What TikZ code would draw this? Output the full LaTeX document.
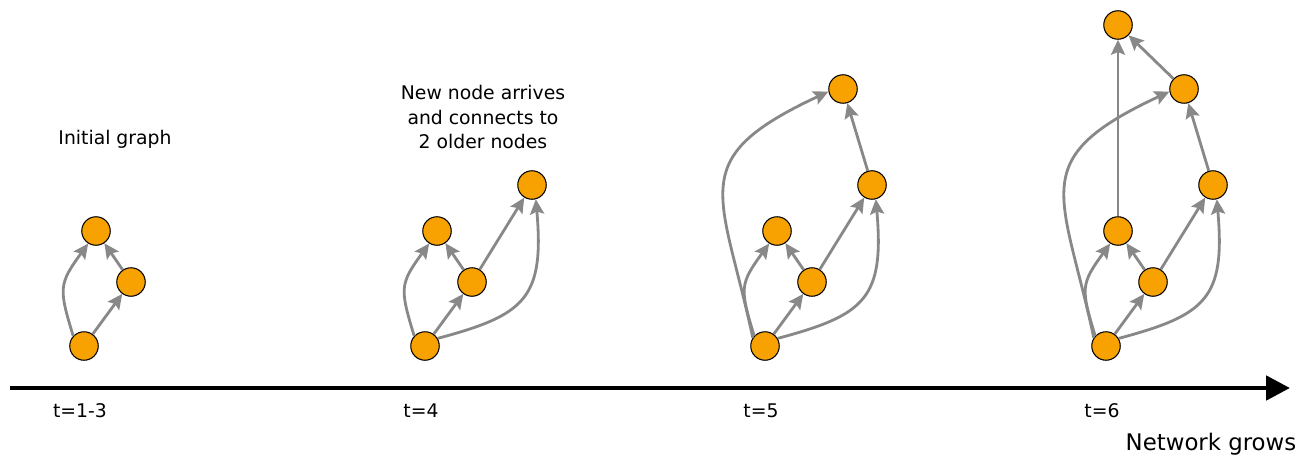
\documentclass[tikz,border=0pt]{standalone}
\usepackage{fontspec}
\setmainfont{DejaVu Sans}
\usepackage{xcolor}
\usepackage{tikz}
\usetikzlibrary{arrows.meta}
\definecolor{vtxorange}{RGB}{247,162,0}
\definecolor{lnkgray}{RGB}{136,136,136}

\begin{document}
\begin{tikzpicture}[x=0.02cm,y=0.02cm,font=\fontsize{10.7}{14.2}\selectfont,
  vtx/.style={circle,draw=black,line width=0.6pt,fill=vtxorange,minimum size=0.57cm,inner sep=0pt},
  lnk/.style={draw=lnkgray,line width=1.6pt,-{Stealth[length=8.5pt,width=8pt,inset=1.5pt]}}]
\useasboundingbox (0,0) rectangle (1314,457);
\coordinate (tstart) at (10,69); \coordinate (tend) at (1290,69);
\draw[line width=2.8pt,-{Triangle[length=13.6pt,width=13.6pt]}] (tstart)--(tend);
\node (grows) at (1211,13) {\fontsize{13}{15}\selectfont Network grows};
\node (initial) at (115,318) {Initial graph};
\node[align=center] (arrives) at (483,340) {New node arrives\\and connects to\\2 older nodes};
\foreach \g/\x/\t in {a/0/t=1-3,b/341/t=4,c/681/t=5,d/1022/t=6}{
  \node[vtx] (\g1) at (84+\x,111) {};
  \node[vtx] (\g2) at (131+\x,175) {};
  \node[vtx] (\g3) at (96+\x,226) {};
  \node (\g lbl) at (80+\x,46) {\t};
  \draw[lnk] (\g1)--(\g2);
  \draw[lnk] (\g2)--(\g3);
  \draw[lnk] (\g1.137) .. controls +(107:50) and +(234:50) .. (\g3.238);
}
\node[vtx] (b4) at (532,272) {};
\node[vtx] (c4) at (872,272) {};
\node[vtx] (d4) at (1213,272) {};
\node[vtx] (c5) at (843,368) {};
\node[vtx] (d5) at (1184,368) {};
\node[vtx] (d6) at (1118,432) {};
\foreach \g in {b,c,d}{
  \draw[lnk] (\g2)--(\g4);
  \draw[lnk] (\g1.31) .. controls +(15:90) and +(-85:100) .. (\g4.-75);
}
\foreach \g in {c,d}{
  \draw[lnk] (\g4)--(\g5);
  \draw[lnk] (\g1.146) .. controls +(102:150) and +(205:160) .. (\g5.190);
}
\draw[lnk] (d3)--(d6);
\draw[lnk] (d5)--(d6);
\end{tikzpicture}
\end{document}
